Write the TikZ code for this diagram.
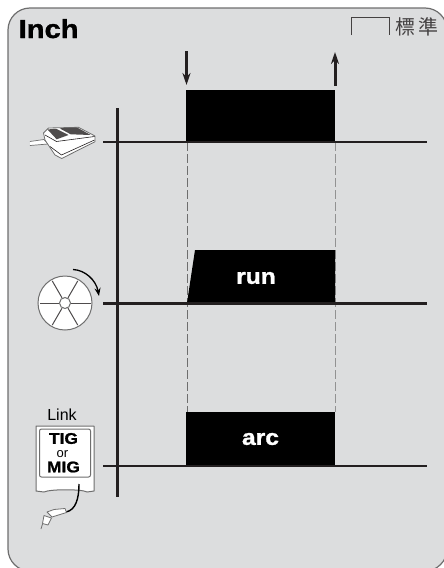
\documentclass[tikz,border=0pt]{standalone}
\usepackage{fontspec}
\setmainfont{Liberation Sans}
\newfontfamily\heavyfont[FakeStretch=1.12,FakeBold=1.3]{Liberation Sans Bold}
\newfontfamily\cjkfont{Noto Sans CJK TC}
\usetikzlibrary{arrows.meta}
\definecolor{panelgray}{HTML}{DCDDDE}
\definecolor{edgegray}{HTML}{6E6E6E}
\definecolor{inkgray}{HTML}{231F20}
\tikzset{
    baseline rule/.style = {draw = inkgray, line width = 2.4pt},
    axis rule/.style = {draw = inkgray, line width = 3pt},
    guide/.style = {draw = edgegray, line width = 1pt, dash pattern = on 9pt off 3pt},
    signal/.style = {draw = inkgray, line width = 3pt, -{Stealth[length = 12pt, width = 8pt]}},
    pulse/.style = {fill = black, text = white, inner sep = 0pt, minimum width = 149pt, font = \heavyfont\fontsize{22}{22}\selectfont},
    icon/.style = {draw = edgegray, fill = white, line width = 1pt},
    spoke/.style = {draw = inkgray!80, line width = 1pt}
}
\begin{document}
\begin{tikzpicture}[x = 1pt, y = -1pt]
            \useasboundingbox (0, 0) rectangle (444, 568);
            \clip (0, 0) rectangle (444, 568);
            % panel
            \draw [fill = panelgray, draw = edgegray, line width = 1.2pt, rounded corners = 22pt] (8, 8) rectangle (447, 571);
            \node [anchor = base west, inner sep = 0pt, font = \heavyfont\fontsize{26}{26}\selectfont] (title) at (18.5, 38) {Inch};
            \coordinate (bracket-a) at (351, 35);
            \coordinate (bracket-b) at (351, 17);
            \coordinate (bracket-c) at (389, 17);
            \coordinate (bracket-d) at (389, 35);
            \draw [draw = inkgray!85, line width = 1pt] (bracket-a) -- (bracket-b) -- (bracket-c) -- (bracket-d);
            \node [anchor = base west, inner sep = 0pt, text = inkgray!85, font = \cjkfont\fontsize{20}{20}\selectfont] (standard) at (395, 34) {標\hspace{3pt}準};
            % guides
            \coordinate (guide-a) at (187, 142);
            \coordinate (guide-b) at (187, 412);
            \coordinate (guide-c) at (335, 142);
            \coordinate (guide-d) at (335, 412);
            \draw [guide] (guide-a) -- (guide-b);
            \draw [guide, draw = edgegray!75] (guide-c) -- (guide-d);
            % pulses
            \node [pulse, minimum height = 52pt] (press) at (260.5, 116) {};
            \fill [black] (187, 303) -- (195, 250) -- (335, 250) -- (335, 303) -- cycle;
            \node [text = white, inner sep = 0pt, font = \heavyfont\fontsize{22}{22}\selectfont] (run) at (256, 278) {run};
            \node [pulse, minimum height = 54pt] (arc) at (260.5, 439) {arc};
            % axis and baselines
            \coordinate (axis-top) at (117.5, 108);
            \coordinate (axis-bottom) at (117.5, 497);
            \draw [axis rule] (axis-top) -- (axis-bottom);
            \coordinate (pedal-l) at (103, 142);
            \coordinate (pedal-r) at (427, 142);
            \coordinate (wheel-l) at (103, 303.5);
            \coordinate (wheel-r) at (427, 303.5);
            \coordinate (link-l) at (103, 466);
            \coordinate (link-r) at (427, 466);
            \draw [baseline rule] (pedal-l) -- (pedal-r);
            \draw [baseline rule] (wheel-l) -- (wheel-r);
            \draw [baseline rule] (link-l) -- (link-r);
            % press and release
            \coordinate (down-a) at (186.5, 51);
            \coordinate (down-b) at (186.5, 85);
            \coordinate (up-a) at (335, 86);
            \coordinate (up-b) at (335, 52);
            \draw [signal] (down-a) -- (down-b);
            \draw [signal] (up-a) -- (up-b);
            % pedal
            \draw [icon, line width = 0.7pt] (30, 141.5) -- (44, 139.5) -- (48, 144) -- (30, 145.5);
            \draw [icon, line width = 0.8pt, line join = round] (43.5, 133) -- (48.5, 128) -- (78.5, 127.3) -- (95, 136) -- (95, 141.7) -- (61.7, 158.5) -- (55, 155) -- (45, 140) -- cycle;
            \fill [inkgray!80] (47.5, 129.5) -- (56, 128.7) -- (68.5, 135) -- (56.7, 139.3) -- cycle;
            \fill [inkgray!80] (59.5, 128.3) -- (77.5, 127.7) -- (90.7, 135) -- (70.7, 134.3) -- cycle;
            \draw [draw = inkgray, line width = 0.6pt] (45, 135) -- (56.5, 141.5) -- (94.5, 136.5);
            \draw [draw = inkgray, line width = 0.6pt] (50, 146.5) -- (61.5, 155) -- (94.5, 140);
            % wheel
            \node [circle, icon, minimum size = 54pt, inner sep = 0pt] (wheel) at (65, 303) {};
            \node [circle, draw = edgegray, line width = 1pt, minimum size = 11pt, inner sep = 0pt] (hub) at (65, 303) {};
            \foreach \ang in {0, 60, ..., 300}
                \draw [spoke] (hub.\ang) -- ([shift = {(\ang:-2pt)}] wheel.\ang);
            \coordinate (turn-a) at (73, 269.5);
            \coordinate (turn-b) at (99, 296);
            \draw [draw = black, line width = 1.3pt, -{Stealth[length = 8pt, width = 6pt]}] (turn-a) .. controls (85, 270) and (96, 280) .. (turn-b);
            % link card
            \node [inner sep = 0pt, font = \fontsize{16}{16}\selectfont] (linktext) at (62, 415) {Link};
            \draw [icon, line join = round] (36, 426) -- (94, 426) -- (94, 491) -- (87, 492) .. controls (82, 489) and (50, 489) .. (44, 492) -- (36, 491) -- cycle;
            \node [draw = edgegray, line width = 1pt, rounded corners = 2pt, minimum width = 51pt, minimum height = 48pt, inner sep = 0pt] (card) at (65, 453) {};
            \node [inner sep = 0pt, font = \heavyfont\fontsize{15.5}{15.5}\selectfont] (tig) at (63.5, 438.5) {TIG};
            \node [inner sep = 0pt, font = \fontsize{13}{13}\selectfont] (or) at (62.5, 454) {or};
            \node [inner sep = 0pt, font = \heavyfont\fontsize{15.5}{15.5}\selectfont] (mig) at (63.5, 467) {MIG};
            % torch
            \coordinate (cable-a) at (79, 484);
            \coordinate (cable-b) at (66, 512);
            \draw [draw = black, line width = 1.4pt] (cable-a) .. controls (79, 498) and (76, 510) .. (cable-b);
            \draw [icon, line width = 0.8pt, line join = round] (47, 512) -- (54, 509.5) -- (65, 508.5) -- (66.5, 512.5) -- (52, 517) -- cycle;
            \draw [icon, line width = 0.8pt, line join = round] (44, 515.5) -- (51.5, 518) -- (48, 525) -- (42.5, 523.5) -- cycle;
            \coordinate (tip-a) at (42.5, 524);
            \coordinate (tip-b) at (41, 529);
            \draw [draw = edgegray, line width = 0.8pt] (tip-a) -- (tip-b);
        \end{tikzpicture}
\end{document}
